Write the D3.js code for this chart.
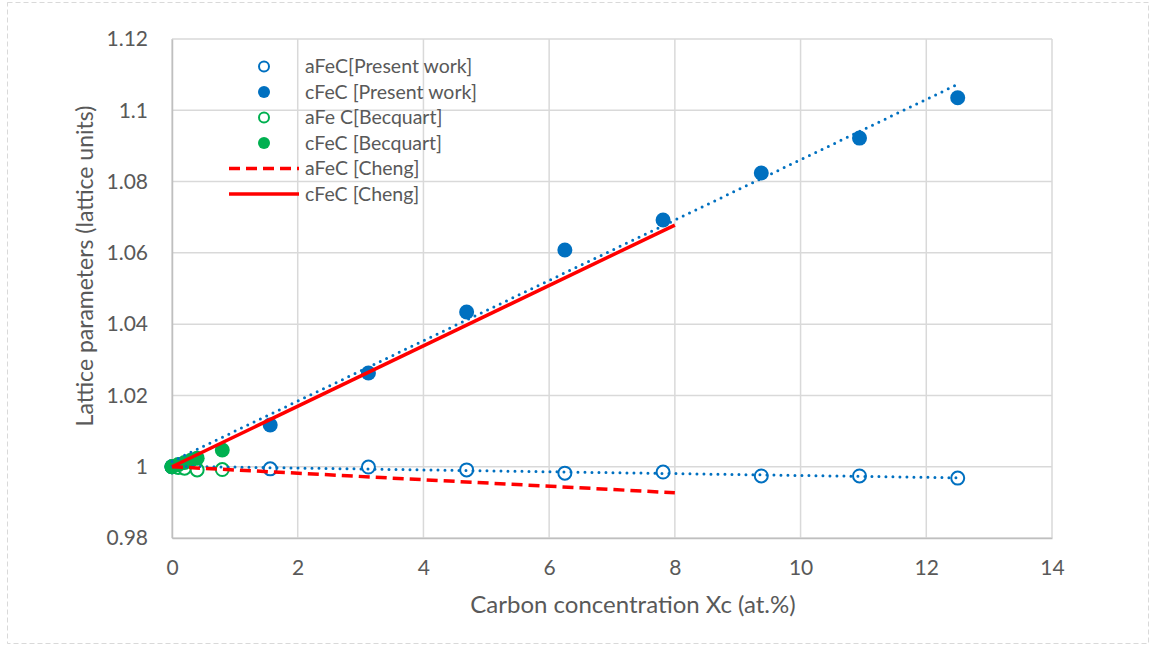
<!DOCTYPE html>
<html>
<head>
<meta charset="utf-8">
<script src="https://cdn.jsdelivr.net/npm/d3@7"></script>
<style>
  body { margin: 0; background: #fff; }
  text { font-family: Lato, "Open Sans", sans-serif; fill: #595959; }
</style>
</head>
<body>
<div id="chart"></div>
<script>
// carbon concentration (at.%) of the present-work cells
const presentX = [0, 1.5625, 3.125, 4.6875, 6.25, 7.8125, 9.375, 10.9375, 12.5];
const presentA = [1.0, 0.9994, 0.9999, 0.9991, 0.9982, 0.9985, 0.9974, 0.9974, 0.9968];
const presentC = [1.0, 1.0117, 1.0263, 1.0434, 1.0608, 1.0692, 1.0824, 1.0922, 1.1035];

const becquartAX = [0, 0.1, 0.2, 0.4, 0.8];
const becquartA  = [1.0, 0.9998, 0.9996, 0.9991, 0.9992];
const becquartCX = [0, 0.1, 0.2, 0.3, 0.4, 0.8];
const becquartC  = [1.0, 1.0006, 1.0012, 1.0018, 1.0024, 1.0047];

const chengX = [0, 8];
const chengA = [1.0, 0.9927];
const chengC = [1.0, 1.0678];

const xTicks = [0, 2, 4, 6, 8, 10, 12, 14];
const yTicks = [0.98, 1, 1.02, 1.04, 1.06, 1.08, 1.1, 1.12];

const legendLabels = ["aFeC[Present work]", "cFeC [Present work]", "aFe C[Becquart]",
                      "cFeC [Becquart]", "aFeC [Cheng]", "cFeC [Cheng]"];

const blue = "#0070C0", green = "#00B050", red = "#FF0000";

const W = 1151, H = 646;
const m = { left: 172, right: 99, top: 39, bottom: 108 };

const svg = d3.select("#chart").append("svg")
    .attr("width", W)
    .attr("height", H);

// dashed chart frame
svg.append("rect")
    .attr("x", 7.5).attr("y", 2.5)
    .attr("width", W - 10).attr("height", H - 5)
    .attr("fill", "none")
    .attr("stroke", "#d9d9d9")
    .attr("stroke-dasharray", "5,3");

const x = d3.scaleLinear().domain([0, 14]).range([m.left, W - m.right]);
const y = d3.scaleLinear().domain([0.98, 1.12]).range([H - m.bottom, m.top]);

// gridlines
svg.append("g").selectAll("line").data(xTicks).enter().append("line")
    .attr("x1", d => x(d)).attr("x2", d => x(d))
    .attr("y1", y(0.98)).attr("y2", y(1.12))
    .attr("stroke", "#d9d9d9").attr("stroke-width", 1.5);
svg.append("g").selectAll("line").data(yTicks).enter().append("line")
    .attr("x1", x(0)).attr("x2", x(14))
    .attr("y1", d => y(d)).attr("y2", d => y(d))
    .attr("stroke", "#d9d9d9").attr("stroke-width", 1.5);

// axes
let xAxis = svg.append("g")
    .attr("transform", `translate(0, ${ y(0.98) })`)
    .call(d3.axisBottom(x).tickValues(xTicks).tickSize(0).tickPadding(22).tickFormat(d3.format("d")));
let yAxis = svg.append("g")
    .attr("transform", `translate(${ x(0) }, 0)`)
    .call(d3.axisLeft(y).tickValues(yTicks).tickSize(0).tickPadding(24).tickFormat(d => String(+d.toFixed(2))));
[xAxis, yAxis].forEach(a => {
  a.select(".domain").attr("stroke", "#bfbfbf").attr("stroke-width", 1.5);
  a.selectAll("text").attr("font-size", 21).attr("fill", "#595959")
      .style("font-family", "Lato, 'Open Sans', sans-serif");
});

svg.append("text")
    .attr("x", 633).attr("y", 613)
    .attr("text-anchor", "middle")
    .attr("font-size", 24)
    .text("Carbon concentration Xc (at.%)");
svg.append("text")
    .attr("transform", `translate(93, 266) rotate(-90)`)
    .attr("text-anchor", "middle")
    .attr("font-size", 23)
    .text("Lattice parameters (lattice units)");

// markers
function points(xs, ys, color, filled) {
  svg.append("g").selectAll("circle").data(xs.map((d, i) => [d, ys[i]])).enter()
    .append("circle")
      .attr("cx", d => x(d[0]))
      .attr("cy", d => y(d[1]))
      .attr("r", filled ? 7.5 : 6.5)
      .attr("fill", filled ? color : "#fff")
      .attr("stroke", color)
      .attr("stroke-width", filled ? 0 : 2);
}
points(presentX, presentA, blue, false);
points(presentX, presentC, blue, true);
points(becquartAX, becquartA, green, false);
points(becquartCX, becquartC, green, true);

// least squares trendlines for present work
function fit(xs, ys) {
  let mx = d3.mean(xs), my = d3.mean(ys);
  let sxy = d3.sum(xs, (d, i) => (d - mx) * (ys[i] - my));
  let sxx = d3.sum(xs, d => (d - mx) * (d - mx));
  let b = sxy / sxx;
  return t => my + b * (t - mx);
}
const line = d3.line().x(d => x(d[0])).y(d => y(d[1]));
[presentA, presentC].forEach(ys => {
  let f = fit(presentX, ys);
  let ends = d3.extent(presentX);
  svg.append("path")
      .attr("d", line(ends.map(t => [t, f(t)])))
      .attr("fill", "none")
      .attr("stroke", blue)
      .attr("stroke-width", 3)
      .attr("stroke-linecap", "round")
      .attr("stroke-dasharray", "0,7");
});

// Cheng lines
svg.append("path")
    .attr("d", line(chengX.map((d, i) => [d, chengA[i]])))
    .attr("fill", "none").attr("stroke", red)
    .attr("stroke-width", 3.5).attr("stroke-dasharray", "11,6");
svg.append("path")
    .attr("d", line(chengX.map((d, i) => [d, chengC[i]])))
    .attr("fill", "none").attr("stroke", red)
    .attr("stroke-width", 3.5);

// legend
let legend = svg.append("g");
let rows = legend.selectAll("g").data(legendLabels).enter().append("g")
    .attr("transform", (d, i) => `translate(0, ${ 66.5 + i * 25.5 })`);
rows.append("text")
    .attr("x", 305).attr("dy", "0.35em")
    .attr("font-size", 19.5)
    .text(d => d);
rows.each(function(d, i) {
  let g = d3.select(this);
  if (i < 4) {
    let c = i < 2 ? blue : green;
    g.append("circle")
        .attr("cx", 264).attr("r", i % 2 ? 6 : 5)
        .attr("fill", i % 2 ? c : "#fff")
        .attr("stroke", c).attr("stroke-width", i % 2 ? 0 : 2);
  } else {
    g.append("line")
        .attr("x1", 229).attr("x2", 299)
        .attr("stroke", red).attr("stroke-width", 3.5)
        .attr("stroke-dasharray", i == 4 ? "11,6" : null);
  }
});
</script>
</body>
</html>
